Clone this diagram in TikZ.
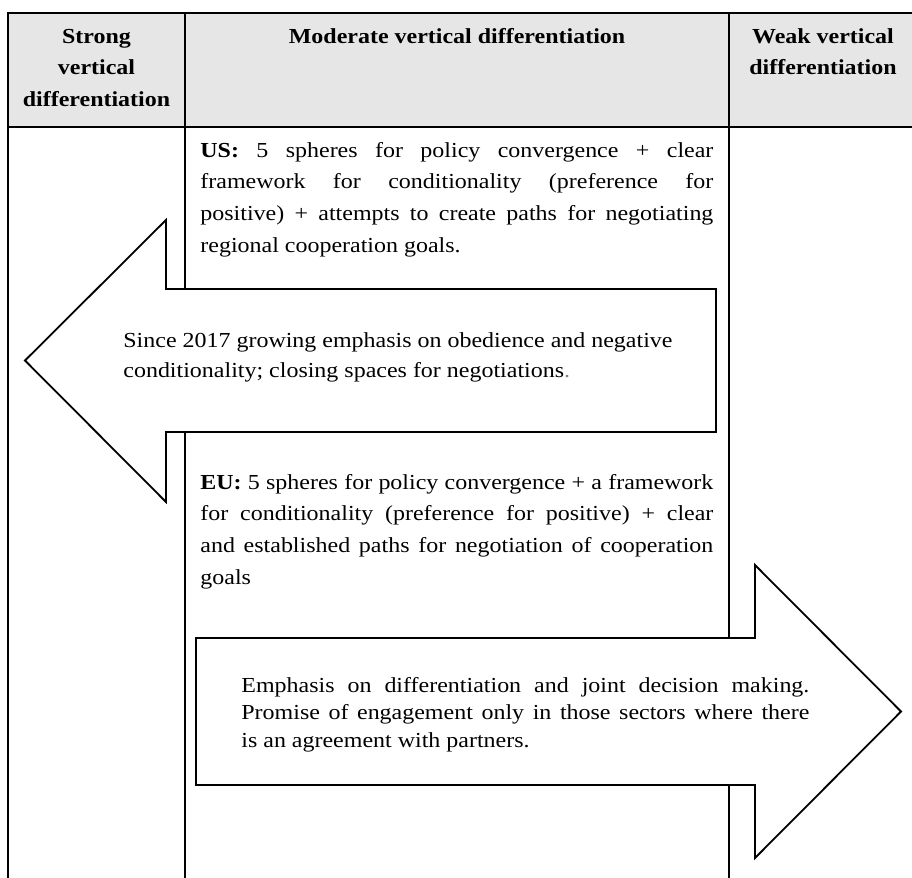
\documentclass[tikz,border=0pt]{standalone}
\usepackage{fontspec}
\setmainfont{Liberation Serif}[FakeStretch=1.12]
\definecolor{headgray}{HTML}{E6E6E6}
\newcommand{\jline}[1]{\makebox[\linewidth][s]{#1}}
\begin{document}
\begin{tikzpicture}[x=0.5pt,y=-0.5pt,
  tablerule/.style={line width=1.4pt, line cap=rect},
  arrowshape/.style={draw, fill=white, line width=0.9pt, line join=miter},
  txt/.style={anchor=base west, inner sep=0pt, font=\fontsize{10.7}{15.85}\selectfont},
  head/.style={anchor=base, inner sep=0pt, font=\bfseries\fontsize{10.7}{16}\selectfont}]
\path[use as bounding box] (0,0) rectangle (912,878);
\begin{scope}
\clip (0,0) rectangle (912,878);
% header band
\fill[headgray] (8,13) rectangle (920,127);
% table rules
\draw[tablerule] (8,13) -- (920,13);
\draw[tablerule] (8,127) -- (920,127);
\draw[tablerule] (8,13) -- (8,890);
\draw[tablerule] (185,13) -- (185,890);
\draw[tablerule] (729,13) -- (729,890);
\draw[tablerule] (917,13) -- (917,890);
% left arrow
\draw[arrowshape] (25,360.5) -- (166,220) -- (166,289) -- (716,289) -- (716,432)
   -- (166,432) -- (166,502) -- cycle;
% right arrow
\draw[arrowshape] (196,638) -- (755,638) -- (755,565) -- (901,711.5) -- (755,858)
   -- (755,785) -- (196,785) -- cycle;
\end{scope}
% header texts
\node[head] (hstrong) at (96.5,43) {\parbox[t]{86pt}{\centering Strong\\vertical\\differentiation}};
\node[head] (hmod) at (457,43) {Moderate vertical differentiation};
\node[head] (hweak) at (823,43) {\parbox[t]{90pt}{\centering Weak vertical\\differentiation}};
% US block
\node[txt] (us) at (200,157) {\parbox[t]{256.5pt}{%
\jline{\textbf{US:} 5 spheres for policy convergence + clear}\\
\jline{framework for conditionality (preference for}\\
\jline{positive) + attempts to create paths for negotiating}\\
regional cooperation goals.}};
% left arrow text
\node[txt, font=\fontsize{10.7}{15}\selectfont] (since) at (123,347) {\parbox[t]{300pt}{%
Since 2017 growing emphasis on obedience and negative\\
conditionality; closing spaces for negotiations{\color{gray}.}}};
% EU block
\node[txt] (eu) at (200,489) {\parbox[t]{256.5pt}{%
\jline{\textbf{EU:} 5 spheres for policy convergence + a framework}\\
\jline{for conditionality (preference for positive) + clear}\\
\jline{and established paths for negotiation of cooperation}\\
goals}};
% right arrow text
\node[txt, font=\fontsize{10.7}{13.75}\selectfont] (emph) at (241,692) {\parbox[t]{284pt}{%
\jline{Emphasis on differentiation and joint decision making.}\\
\jline{Promise of engagement only in those sectors where there}\\
is an agreement with partners.}};
\end{tikzpicture}
\end{document}
